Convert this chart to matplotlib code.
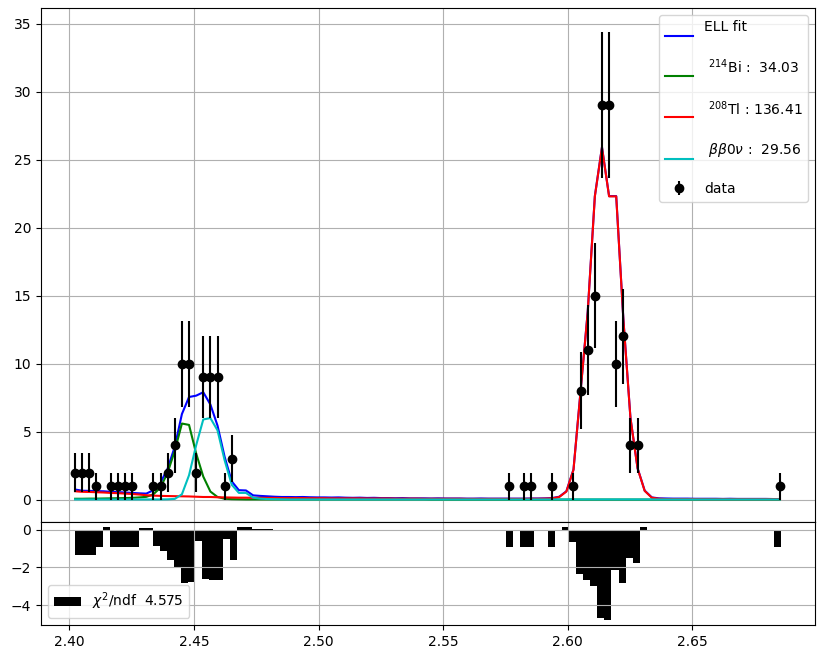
import matplotlib

matplotlib.use("Agg")
import matplotlib.pyplot as plt  # noqa: E402
import numpy as np  # noqa: E402

# binning (centre of first bin, spacing of data points, spacing of residual bars)
X0 = 2.40229
BIN_W = 0.002857
BAR_W = 0.002832

counts = [
    2, 2, 2, 1, 0, 1, 1, 1, 1, 0,
    0, 1, 1, 2, 4, 10, 10, 2, 9, 9,
    9, 1, 3, 0, 0, 0, 0, 0, 0, 0,
    0, 0, 0, 0, 0, 0, 0, 0, 0, 0,
    0, 0, 0, 0, 0, 0, 0, 0, 0, 0,
    0, 0, 0, 0, 0, 0, 0, 0, 0, 0,
    0, 1, 0, 1, 1, 0, 0, 1, 0, 0,
    1, 8, 11, 15, 29, 29, 10, 12, 4, 4,
    0, 0, 0, 0, 0, 0, 0, 0, 0, 0,
    0, 0, 0, 0, 0, 0, 0, 0, 0, 1,
]

fit_total = [
    0.75, 0.66, 0.65, 0.63, 0.62, 0.58, 0.56, 0.53, 0.50, 0.47,
    0.45, 0.70, 1.25, 2.30, 3.90, 6.30, 7.55, 7.65, 7.90, 7.00,
    5.45, 3.15, 1.35, 0.70, 0.68, 0.32, 0.28, 0.25, 0.22, 0.20,
    0.20, 0.19, 0.20, 0.18, 0.17, 0.17, 0.16, 0.17, 0.15, 0.14,
    0.15, 0.13, 0.14, 0.12, 0.12, 0.11, 0.12, 0.10, 0.10, 0.10,
    0.09, 0.10, 0.09, 0.09, 0.09, 0.08, 0.08, 0.09, 0.08, 0.08,
    0.08, 0.08, 0.08, 0.08, 0.09, 0.09, 0.10, 0.12, 0.22, 0.62,
    2.22, 8.02, 13.82, 22.32, 25.92, 22.32, 22.32, 13.32, 6.02, 2.32,
    0.67, 0.17, 0.10, 0.09, 0.08, 0.08, 0.08, 0.07, 0.07, 0.07,
    0.07, 0.06, 0.07, 0.06, 0.06, 0.06, 0.06, 0.06, 0.05, 0.05,
]

bi214 = [
    0.07, 0.07, 0.08, 0.08, 0.09, 0.10, 0.11, 0.12, 0.14, 0.17,
    0.21, 0.40, 0.90, 2.00, 3.60, 5.60, 5.50, 3.40, 1.70, 0.60,
    0.20, 0.07, 0.04, 0.03, 0.02, 0.02, 0.02, 0.02, 0.02, 0.02,
    0.02, 0.02, 0.02, 0.02, 0.02, 0.02, 0.02, 0.02, 0.02, 0.02,
    0.02, 0.02, 0.02, 0.02, 0.02, 0.02, 0.02, 0.02, 0.02, 0.02,
    0.01, 0.01, 0.01, 0.01, 0.01, 0.01, 0.01, 0.01, 0.01, 0.01,
    0.01, 0.01, 0.01, 0.01, 0.01, 0.01, 0.01, 0.01, 0.01, 0.01,
    0.01, 0.01, 0.01, 0.01, 0.01, 0.01, 0.01, 0.01, 0.01, 0.01,
    0.01, 0.01, 0.01, 0.01, 0.01, 0.01, 0.01, 0.01, 0.01, 0.01,
    0.01, 0.01, 0.01, 0.01, 0.01, 0.01, 0.01, 0.01, 0.01, 0.01,
]

tl208 = [
    0.62, 0.58, 0.57, 0.55, 0.53, 0.50, 0.48, 0.45, 0.42, 0.38,
    0.33, 0.30, 0.28, 0.27, 0.26, 0.25, 0.24, 0.22, 0.20, 0.20,
    0.18, 0.17, 0.16, 0.15, 0.15, 0.14, 0.14, 0.13, 0.13, 0.12,
    0.12, 0.12, 0.12, 0.11, 0.11, 0.11, 0.10, 0.10, 0.10, 0.10,
    0.10, 0.09, 0.09, 0.09, 0.09, 0.08, 0.08, 0.08, 0.08, 0.07,
    0.07, 0.07, 0.07, 0.07, 0.07, 0.06, 0.06, 0.06, 0.06, 0.06,
    0.06, 0.06, 0.06, 0.06, 0.07, 0.07, 0.08, 0.10, 0.20, 0.60,
    2.20, 8.00, 13.80, 22.30, 25.90, 22.30, 22.30, 13.30, 6.00, 2.30,
    0.65, 0.15, 0.07, 0.05, 0.05, 0.05, 0.05, 0.05, 0.04, 0.04,
    0.04, 0.04, 0.04, 0.04, 0.04, 0.04, 0.04, 0.04, 0.04, 0.04,
]

bb0nu = [
    0.02, 0.02, 0.02, 0.02, 0.02, 0.02, 0.02, 0.02, 0.02, 0.02,
    0.02, 0.02, 0.02, 0.03, 0.06, 0.40, 1.80, 4.00, 5.90, 6.00,
    5.10, 2.90, 1.10, 0.50, 0.50, 0.15, 0.08, 0.05, 0.04, 0.03,
    0.02, 0.02, 0.02, 0.02, 0.02, 0.02, 0.02, 0.02, 0.02, 0.02,
    0.02, 0.02, 0.02, 0.02, 0.02, 0.02, 0.02, 0.02, 0.02, 0.02,
    0.02, 0.02, 0.02, 0.02, 0.02, 0.02, 0.02, 0.02, 0.02, 0.02,
    0.02, 0.02, 0.02, 0.02, 0.02, 0.02, 0.02, 0.02, 0.02, 0.02,
    0.02, 0.02, 0.02, 0.02, 0.02, 0.02, 0.02, 0.02, 0.02, 0.02,
    0.02, 0.02, 0.02, 0.02, 0.02, 0.02, 0.02, 0.02, 0.02, 0.02,
    0.02, 0.02, 0.02, 0.02, 0.02, 0.02, 0.02, 0.02, 0.02, 0.02,
]

residual = [
    -1.32, -1.32, -1.32, -0.91, 0.13, -0.91, -0.91, -0.91, -0.91, 0.10,
    0.10, -0.84, -1.14, -1.63, -2.05, -2.81, -2.76, -0.61, -2.60, -2.66,
    -2.69, -0.49, -1.58, 0.13, 0.13, 0.06, 0.06, 0.06, 0.0, 0.0,
    0.0, 0.0, 0.0, 0.0, 0.0, 0.0, 0.0, 0.0, 0.0, 0.0,
    0.0, 0.0, 0.0, 0.0, 0.0, 0.0, 0.0, 0.0, 0.0, 0.0,
    0.0, 0.0, 0.0, 0.0, 0.0, 0.0, 0.0, 0.0, 0.0, 0.0,
    0.0, -0.93, 0.0, -0.93, -0.93, 0.0, 0.0, -0.93, 0.0, 0.13,
    -0.65, -2.37, -2.69, -2.99, -4.67, -4.81, -2.11, -2.85, -1.49, -1.79,
    0.13, 0.0, 0.0, 0.0, 0.0, 0.0, 0.0, 0.0, 0.0, 0.0,
    0.0, 0.0, 0.0, 0.0, 0.0, 0.0, 0.0, 0.0, 0.0, -0.93,
]

yields = {"bi": 34.03, "tl": 136.41, "bb": 29.56}
chi2_ndf = 4.575

idx = np.arange(len(counts))
x = X0 + idx * BIN_W
x_bar = X0 + idx * BAR_W
n = np.asarray(counts, dtype=float)
has = n > 0

fig = plt.figure(figsize=(8.25, 6.59), dpi=100)
gs = fig.add_gridspec(2, 1, height_ratios=[5, 1], hspace=0,
                      left=0.0497, right=0.9879, top=0.9879, bottom=0.0516)
ax = fig.add_subplot(gs[0])
axr = fig.add_subplot(gs[1], sharex=ax)

ax.plot(x, fit_total, color="b", label="ELL fit\n")
ax.plot(x, bi214, color="g", label=f" $^{{214}}$Bi : {yields['bi']:6.2f}\n")
ax.plot(x, tl208, color="r", label=f" $^{{208}}$Tl : {yields['tl']:6.2f}\n")
ax.plot(x, bb0nu, color="c", label=f" $\\beta\\beta0\\nu$ : {yields['bb']:6.2f}\n")
ax.errorbar(x[has], n[has], yerr=np.sqrt(n[has]), fmt="o", color="k", label="data")

ax.set_ylim(-1.65, 36.15)
ax.grid(True)
ax.tick_params(labelbottom=False)
ax.legend(loc="upper right")

axr.bar(x_bar, residual, width=BAR_W, align="edge", color="k",
        label=f"$\\chi^2$/ndf  {chi2_ndf}")
axr.set_ylim(-5.05, 0.4)
axr.set_xlim(2.3886, 2.6992)
axr.grid(True)
axr.legend(loc="lower left")

fig.savefig("out.png")
